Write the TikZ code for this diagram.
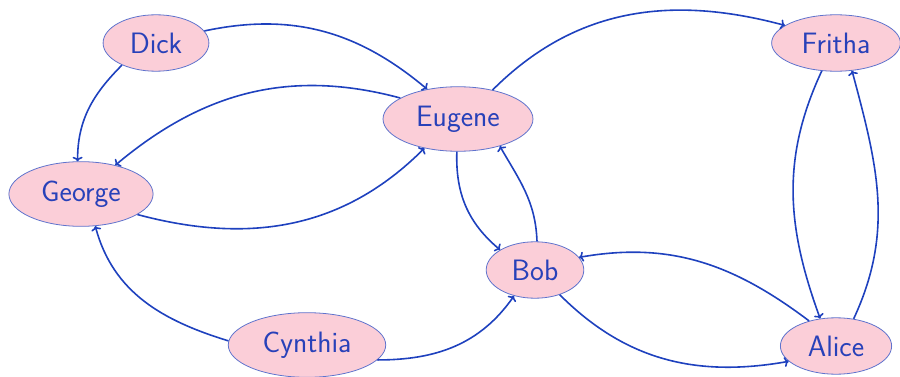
\documentclass[tikz,border=0pt]{standalone}
\usetikzlibrary{shapes.geometric,arrows.meta}
\definecolor{nodefill}{RGB}{251,206,216}
\definecolor{nodeline}{RGB}{95,115,205}
\definecolor{edgecol}{RGB}{30,65,190}
\definecolor{textcol}{RGB}{40,65,185}
\begin{document}
\begin{tikzpicture}[x=1pt,y=-1pt,
  person/.style={ellipse,draw=nodeline,line width=0.8pt,fill=nodefill,text=textcol,
    font=\fontsize{29.5}{34}\selectfont\sffamily,inner xsep=11.2pt,inner ysep=9.6pt},
  link/.style={-{To[length=4.5pt,width=10pt]},draw=edgecol,line width=1.6pt}]
\useasboundingbox (0,0) rectangle (900,377);
\node[person] (Dick) at (156,43) {Dick};
\node[person] (Eugene) at (458,119) {Eugene};
\node[person] (Fritha) at (836,43) {Fritha};
\node[person] (George) at (81,194) {George};
\node[person] (Bob) at (535,270) {Bob};
\node[person] (Cynthia) at (307,345) {Cynthia};
\node[person] (Alice) at (836,346) {Alice};
\draw[link] (Dick.14) to[out=12,in=140] (Eugene.136);
\draw[link] (Dick.-147) to[out=-135,in=90] (George.96);
\draw[link] (Eugene.160) to[out=165,in=40] (George.40);
\draw[link] (George.-20) to[out=-15,in=-135] (Eugene.-139);
\draw[link] (Eugene.40) to[out=45,in=165] (Fritha.161);
\draw[link] (Eugene.-92) to[out=-92,in=140] (Bob.150);
\draw[link] (Bob.86) to[out=92,in=-60] (Eugene.-33);
\draw[link] (Fritha.-117) to[out=-115,in=110] (Alice.120);
\draw[link] (Alice.57) to[out=65,in=-75] (Fritha.-60);
\draw[link] (Alice.137) to[out=143,in=10] (Bob.16);
\draw[link] (Bob.-45) to[out=-45,in=190] (Alice.-162);
\draw[link] (Cynthia.177) to[out=163,in=-75] (George.-66);
\draw[link] (Cynthia.-12) to[out=0,in=-125] (Bob.-129);
\end{tikzpicture}
\end{document}
